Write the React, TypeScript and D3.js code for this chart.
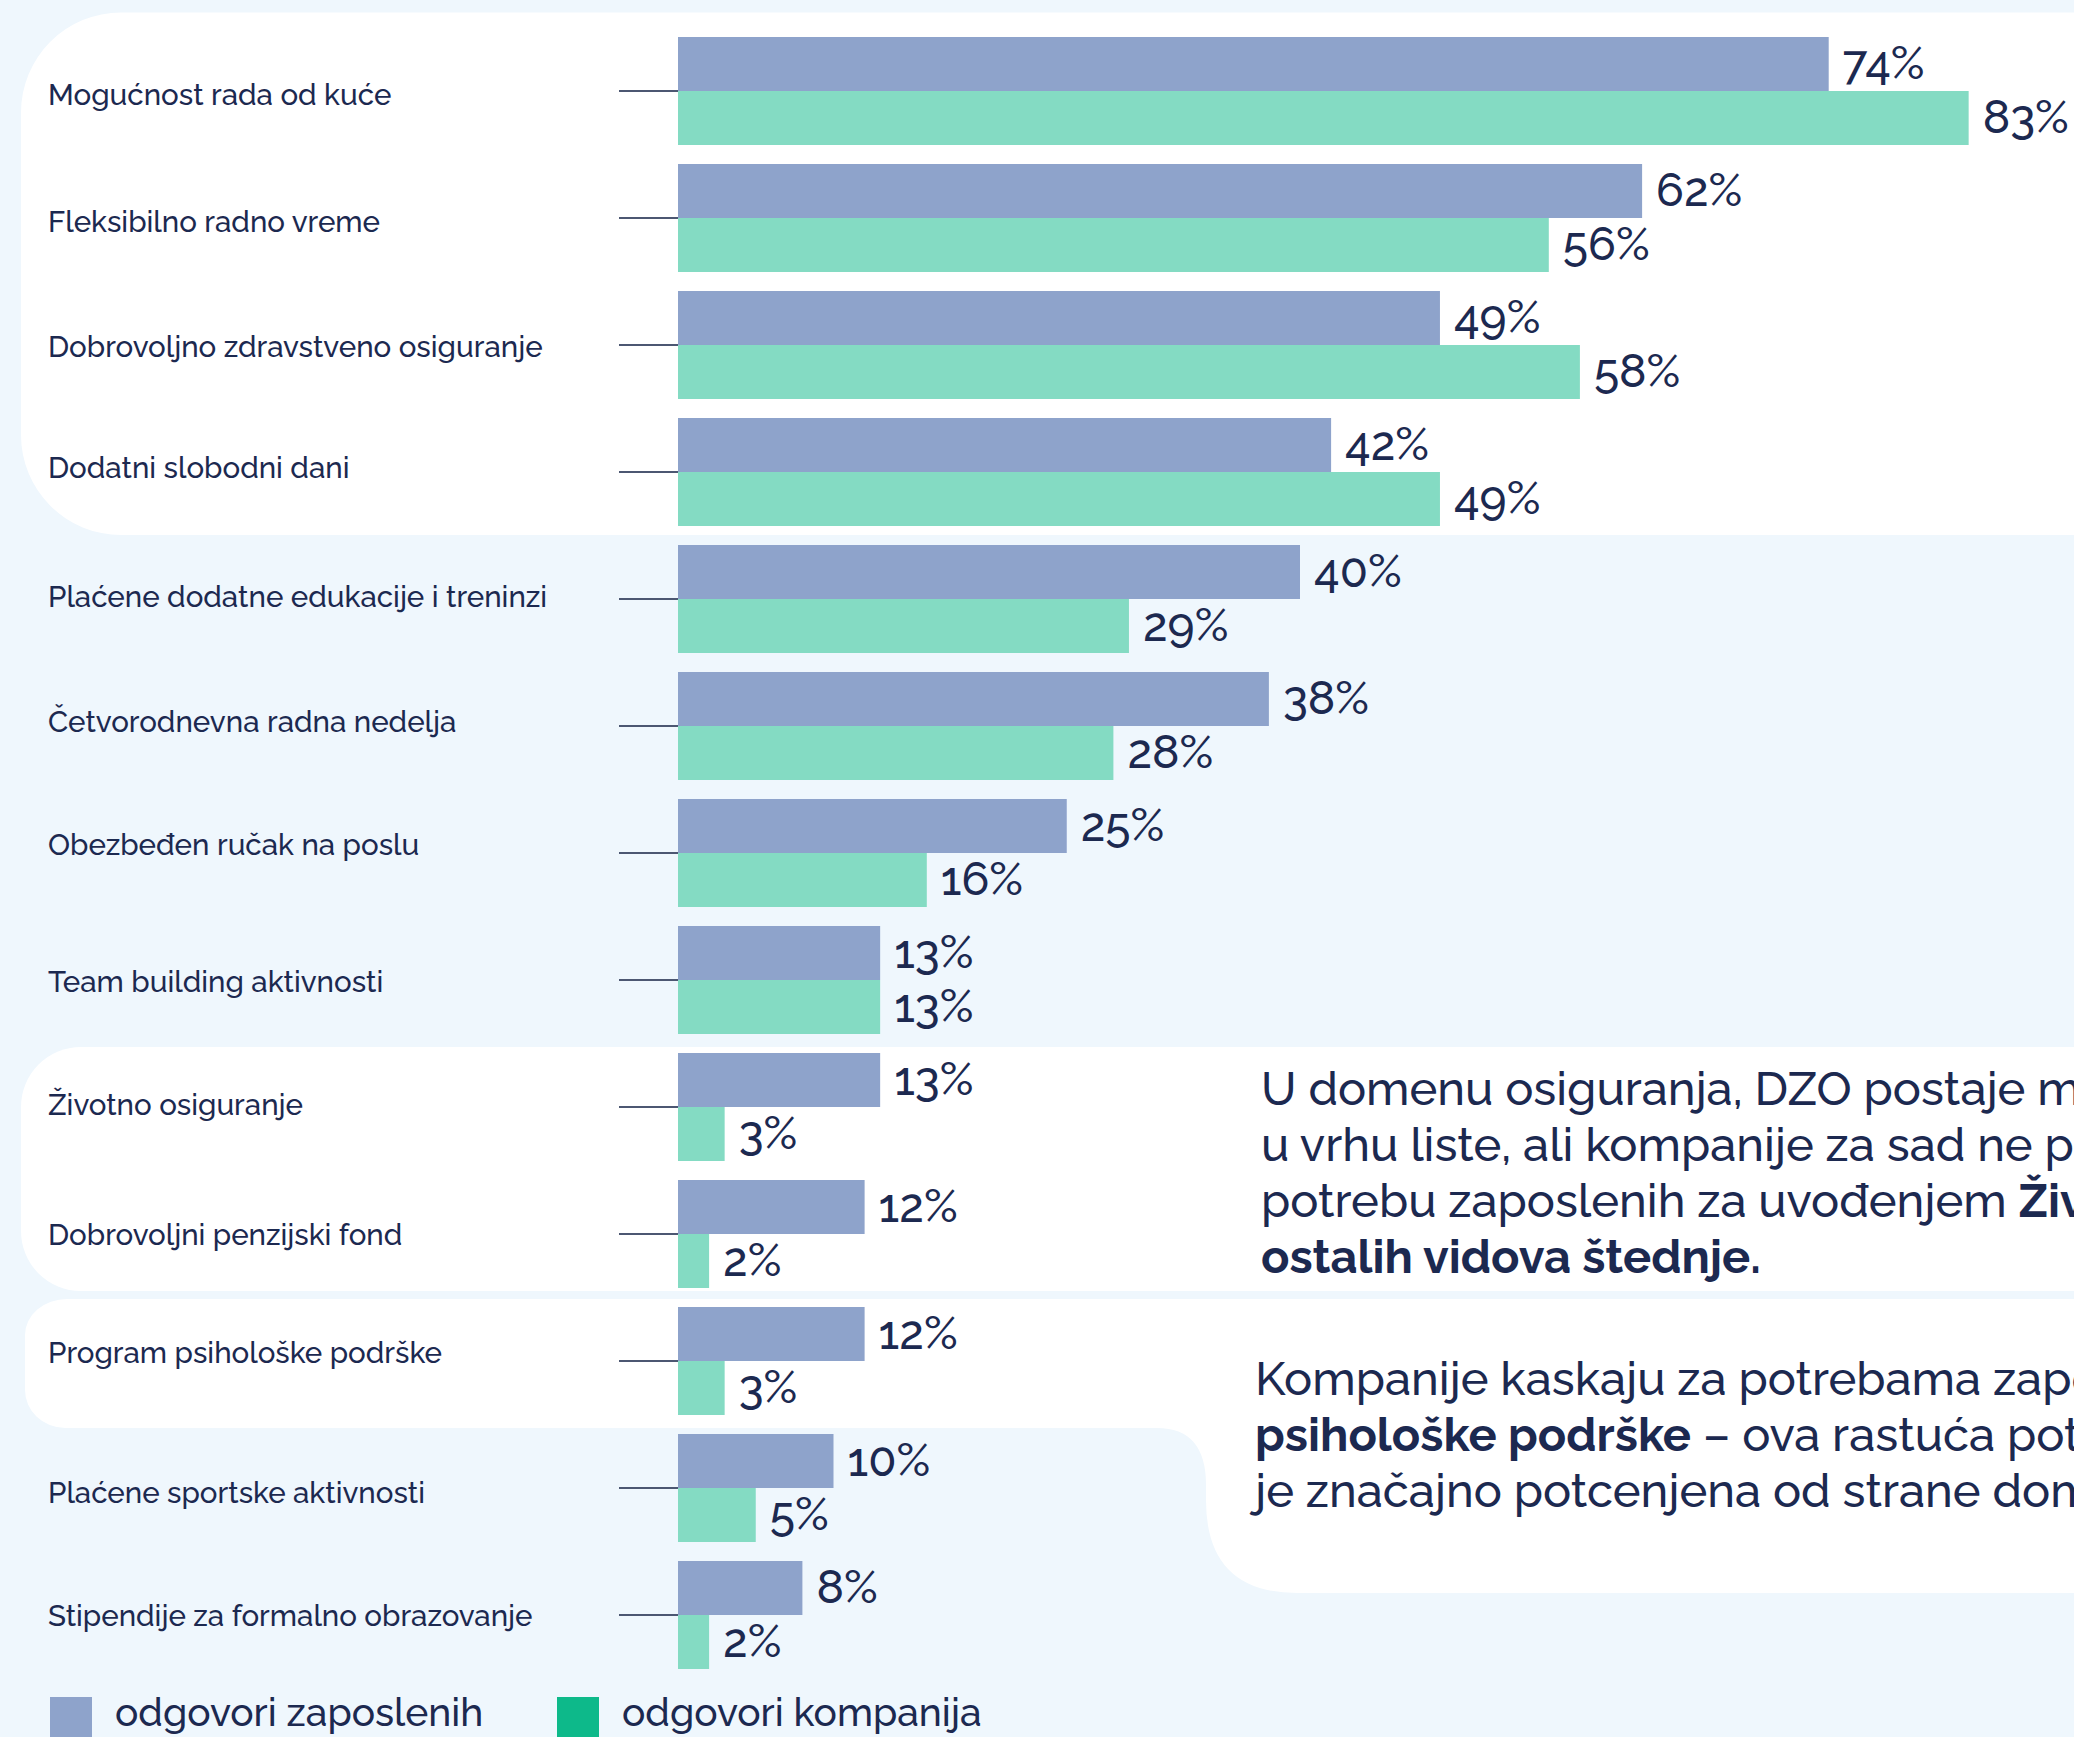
import * as React from "react";
import * as d3 from "d3";

const categories = [
  "Mogućnost rada od kuće",
  "Fleksibilno radno vreme",
  "Dobrovoljno zdravstveno osiguranje",
  "Dodatni slobodni dani",
  "Plaćene dodatne edukacije i treninzi",
  "Četvorodnevna radna nedelja",
  "Obezbeđen ručak na poslu",
  "Team building aktivnosti",
  "Životno osiguranje",
  "Dobrovoljni penzijski fond",
  "Program psihološke podrške",
  "Plaćene sportske aktivnosti",
  "Stipendije za formalno obrazovanje",
];

const zaposleni = [74, 62, 49, 42, 40, 38, 25, 13, 13, 12, 12, 10, 8];
const kompanije = [83, 56, 58, 49, 29, 28, 16, 13, 3, 2, 3, 5, 2];

const seriesNames = ["odgovori zaposlenih", "odgovori kompanija"];

const note1 = [
  [{ t: "U domenu osiguranja, DZO postaje mnogo važniji i", b: false }],
  [{ t: "u vrhu liste, ali kompanije za sad ne prepoznaju", b: false }],
  [
    { t: "potrebu zaposlenih za uvođenjem ", b: false },
    { t: "Životnog osiguranja i", b: true },
  ],
  [{ t: "ostalih vidova štednje.", b: true }],
];

const note2 = [
  [{ t: "Kompanije kaskaju za potrebama zaposlenih u domenu", b: false }],
  [
    { t: "psihološke podrške", b: true },
    { t: " – ova rastuća potreba", b: false },
  ],
  [{ t: "je značajno potcenjena od strane domaćih kompanija.", b: false }],
];

const W = 2074;
const H = 1737;
const FONT = "Raleway, Lato, sans-serif";
const INK = "#1c2950";

// small vertical nudges of the category labels, as laid out in the original
const labelNudge = [3, 3, 1, -5, -3, -5, -9, 1, -3, 0, -9, 4, 0];

function drawChart(svgRef) {
  const svg = d3.select(svgRef.current).attr("width", W).attr("height", H);
  svg.selectAll("*").remove();

  // background + white panels
  svg.append("rect").attr("width", W).attr("height", H).attr("fill", "#eff7fd");

  const panels = [
    // top panel
    "M2100,12.5 L121,12.5 A100,100 0 0 0 21,112.5 L21,435 A100,100 0 0 0 121,535 L2100,535 Z",
    // middle panel
    "M2100,1047 L81,1047 A60,60 0 0 0 21,1107 L21,1231 A60,60 0 0 0 81,1291 L2100,1291 Z",
    // lower panel joined with the right text box
    "M2100,1299 L67,1299 A42,36 0 0 0 25,1335 L25,1390 A40,38 0 0 0 65,1428 L1157,1428 " +
      "Q1206,1428 1206,1485 L1206,1500 Q1206,1593 1297,1593 L2100,1593 Z",
  ];
  svg
    .selectAll(".panel")
    .data(panels)
    .enter()
    .append("path")
    .classed("panel", true)
    .attr("d", (d) => d)
    .attr("fill", "#ffffff");

  const x = d3.scaleLinear().domain([0, 100]).range([678, 678 + 1555]);
  const y = d3
    .scaleBand()
    .domain(categories)
    .range([37, 1669])
    .paddingInner(19 / 127)
    .paddingOuter(0);
  const sub = d3.scaleBand().domain(seriesNames).range([0, y.bandwidth()]);
  const colors = d3.scaleOrdinal().domain(seriesNames).range(["#8ea3cb", "#84dbc3"]);
  const legendColors = d3.scaleOrdinal().domain(seriesNames).range(["#8ea3cb", "#0db98a"]);

  const rows = categories.map((c, i) => ({
    cat: c,
    vals: [
      { s: seriesNames[0], v: zaposleni[i] },
      { s: seriesNames[1], v: kompanije[i] },
    ],
  }));

  const g = svg.append("g");

  // category labels and tick marks
  const mid = (c) => y(c) + y.bandwidth() / 2;
  g.selectAll(".tick")
    .data(categories)
    .enter()
    .append("line")
    .classed("tick", true)
    .attr("x1", 619)
    .attr("x2", x(0))
    .attr("y1", (d) => mid(d))
    .attr("y2", (d) => mid(d))
    .attr("stroke", "#4c5772")
    .attr("stroke-width", 2);

  g.selectAll(".cat")
    .data(categories)
    .enter()
    .append("text")
    .classed("cat", true)
    .attr("x", 48)
    .attr("y", (d, i) => mid(d) + labelNudge[i])
    .attr("dy", "0.36em")
    .attr("font-family", FONT)
    .attr("font-size", 29.5)
    .attr("font-weight", 500)
    .attr("fill", INK)
    .text((d) => d);

  const grp = g
    .selectAll(".grp")
    .data(rows)
    .enter()
    .append("g")
    .classed("grp", true)
    .attr("transform", (d) => `translate(0,${y(d.cat)})`);

  grp
    .selectAll("rect")
    .data((d) => d.vals)
    .enter()
    .append("rect")
    .attr("x", x(0))
    .attr("y", (d) => sub(d.s))
    .attr("width", (d) => x(d.v) - x(0))
    .attr("height", sub.bandwidth())
    .attr("fill", (d) => colors(d.s));

  grp
    .selectAll(".val")
    .data((d) => d.vals)
    .enter()
    .append("text")
    .classed("val", true)
    .attr("x", (d) => x(d.v) + 14)
    .attr("y", (d) => sub(d.s) + sub.bandwidth() / 2 - 2)
    .attr("dy", "0.37em")
    .attr("font-family", FONT)
    .attr("font-size", 46)
    .attr("font-weight", 500)
    .attr("fill", INK)
    .text((d) => `${d.v}%`);

  // notes on the right
  const drawNote = (lines, x0, y0, lh) => {
    const t = svg
      .append("text")
      .attr("font-family", FONT)
      .attr("font-size", 47)
      .attr("fill", INK);
    lines.forEach((parts, i) => {
      parts.forEach((p, j) => {
        const ts = t.append("tspan").attr("font-weight", p.b ? 700 : 500).text(p.t);
        if (j === 0) ts.attr("x", x0).attr("y", y0 + i * lh);
      });
    });
  };
  drawNote(note1, 1261, 1105, 56);
  drawNote(note2, 1255, 1395, 56);

  // legend
  const lg = svg
    .selectAll(".lg")
    .data(seriesNames)
    .enter()
    .append("g")
    .classed("lg", true)
    .attr("transform", (d, i) => `translate(${[50, 557][i]},1697)`);
  lg.append("rect").attr("width", 42).attr("height", 44).attr("fill", (d) => legendColors(d));
  lg.append("text")
    .attr("x", 65)
    .attr("y", 29)
    .attr("font-family", FONT)
    .attr("font-size", 39)
    .attr("font-weight", 500)
    .attr("fill", INK)
    .text((d) => d);
}

const App = () => {
  const svgRef = React.useRef(null);

  React.useEffect(() => {
    drawChart(svgRef);
  }, [svgRef]);

  return (
    <div style={{ position: "absolute", left: 0, top: 0, width: W, height: H, overflow: "hidden" }}>
      <svg ref={svgRef} style={{ display: "block" }} />
    </div>
  );
};

export default App;
